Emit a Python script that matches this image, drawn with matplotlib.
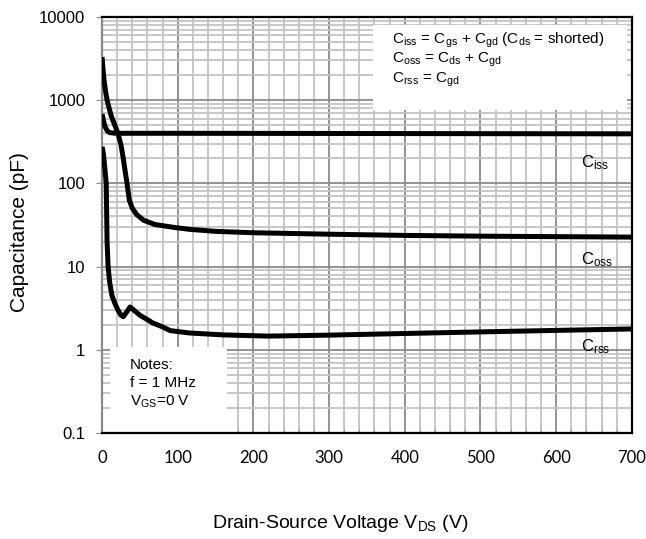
import numpy as np
import matplotlib
matplotlib.use("Agg")
import matplotlib.pyplot as plt
from matplotlib.patches import Rectangle
from matplotlib.ticker import FixedLocator, NullFormatter, LogLocator

plt.rcParams['font.family'] = ['Liberation Sans', 'DejaVu Sans']
plt.rcParams['mathtext.fontset'] = 'custom'
plt.rcParams['mathtext.rm'] = 'Liberation Sans'
plt.rcParams['mathtext.it'] = 'Liberation Sans'

# ---- data ----
ciss_v = [0, 2, 4, 7, 10, 15, 25, 100, 200, 300, 400, 500, 600, 700]
ciss_c = [680, 560, 480, 425, 408, 402, 400, 400, 399, 398, 397, 396, 395, 394]

coss_v = [0, 1, 2.6, 4.5, 6.6, 12, 18, 21, 25, 28, 30, 33, 36, 40, 46, 55, 70, 96,
          116, 150, 200, 250, 300, 400, 500, 600, 700]
coss_c = [3300, 2500, 1750, 1300, 1000, 650, 470, 400, 290, 200, 150, 100, 63, 50,
          42, 36, 32, 29.5, 28, 26.5, 25.5, 25, 24.5, 23.7, 23.2, 22.9, 22.6]

crss_v = [0, 2, 4, 5.5, 6.6, 8, 10, 13, 17, 21, 25, 28, 32, 37, 42, 50, 60, 67,
          79, 90, 116, 160, 220, 300, 400, 500, 600, 700]
crss_c = [275, 220, 140, 100, 10 ** 1.3, 10, 6.5, 4.5, 3.6, 3.0, 2.6, 2.5, 2.8, 3.27,
          3.0, 2.6, 2.3, 2.1, 1.9, 1.7, 1.59, 1.51, 1.46, 1.5, 1.57, 1.64, 1.71, 1.78]

x_ticks = [0, 100, 200, 300, 400, 500, 600, 700]
y_ticks = [0.1, 1, 10, 100, 1000, 10000]
y_tick_labels = ['0.1', '1', '10', '100', '1000', '10000']

fig = plt.figure(figsize=(6.46, 5.39), dpi=100)
ax = fig.add_axes([0.158, 0.1967, 0.820, 0.7718])

ax.set_xlim(0, 700)
ax.set_ylim(0.1, 10000)
ax.set_yscale('log')

# grid
ax.set_xticks(x_ticks)
ax.xaxis.set_minor_locator(FixedLocator(np.arange(0, 701, 20)))
ax.set_yticks(y_ticks)
ax.set_yticklabels(y_tick_labels)
ax.yaxis.set_minor_locator(LogLocator(base=10, subs=np.arange(2, 10), numticks=20))
ax.yaxis.set_minor_formatter(NullFormatter())
ax.grid(which='minor', color='#c3c3c3', linewidth=1.3, zorder=0)
ax.grid(which='major', color='#8a8a8a', linewidth=1.3, zorder=0.5)
ax.set_axisbelow(True)

ax.tick_params(axis='x', which='both', direction='in', length=3, color='#8a8a8a',
               labelsize=12, pad=12)
ax.tick_params(axis='x', which='major', length=0)
ax.tick_params(axis='y', which='major', direction='out', length=4, color='#8a8a8a',
               labelsize=12, pad=8)
ax.tick_params(axis='y', which='minor', length=0)
for lab in ax.get_xticklabels():
    lab.set_family(['Lato', 'DejaVu Sans'])

for s in ['top', 'right', 'bottom']:
    ax.spines[s].set_color('black')
    ax.spines[s].set_linewidth(1.6)
ax.spines['left'].set_color('#8a8a8a')
ax.spines['left'].set_linewidth(1.6)

# white boxes
ax.add_patch(Rectangle((0.511, 0.776), 0.480, 0.205, transform=ax.transAxes,
                       facecolor='white', edgecolor='none', zorder=1))
ax.add_patch(Rectangle((0.015, 0.0), 0.221, 0.207, transform=ax.transAxes,
                       facecolor='white', edgecolor='none', zorder=1))

# curves
for v, c in [(ciss_v, ciss_c), (coss_v, coss_c), (crss_v, crss_c)]:
    ax.plot(v, c, color='black', linewidth=3.6, solid_capstyle='butt', zorder=3)

fs = 11
ax.text(0.547, 0.945, r'C$_{\rm iss}$ = C$_{\rm gs}$ + C$_{\rm gd}$ (C$_{\rm ds}$ = shorted)',
        transform=ax.transAxes, fontsize=fs, va='center', ha='left', zorder=4)
ax.text(0.547, 0.897, r'C$_{\rm oss}$ = C$_{\rm ds}$ + C$_{\rm gd}$',
        transform=ax.transAxes, fontsize=fs, va='center', ha='left', zorder=4)
ax.text(0.547, 0.849, r'C$_{\rm rss}$ = C$_{\rm gd}$',
        transform=ax.transAxes, fontsize=fs, va='center', ha='left', zorder=4)

ax.text(0.053, 0.163, 'Notes:', transform=ax.transAxes, fontsize=fs, va='center', zorder=4)
ax.text(0.053, 0.120, 'f = 1 MHz', transform=ax.transAxes, fontsize=fs, va='center', zorder=4)
ax.text(0.053, 0.075, r'V$_{\rm GS}$=0 V', transform=ax.transAxes, fontsize=fs, va='center', zorder=4)

ax.text(0.904, 0.651, r'C$_{\rm iss}$', transform=ax.transAxes, fontsize=12, va='center', zorder=4)
ax.text(0.904, 0.416, r'C$_{\rm oss}$', transform=ax.transAxes, fontsize=12, va='center', zorder=4)
ax.text(0.904, 0.207, r'C$_{\rm rss}$', transform=ax.transAxes, fontsize=12, va='center', zorder=4)

fig.text(20 / 646, 1 - 232 / 539, 'Capacitance (pF)', rotation=90, fontsize=15,
         ha='center', va='center')
fig.text(340 / 646, 1 - 524 / 539, r'Drain-Source Voltage V$_{\rm DS}$ (V)', fontsize=14,
         ha='center', va='center')

fig.savefig('out.png', dpi=100)
